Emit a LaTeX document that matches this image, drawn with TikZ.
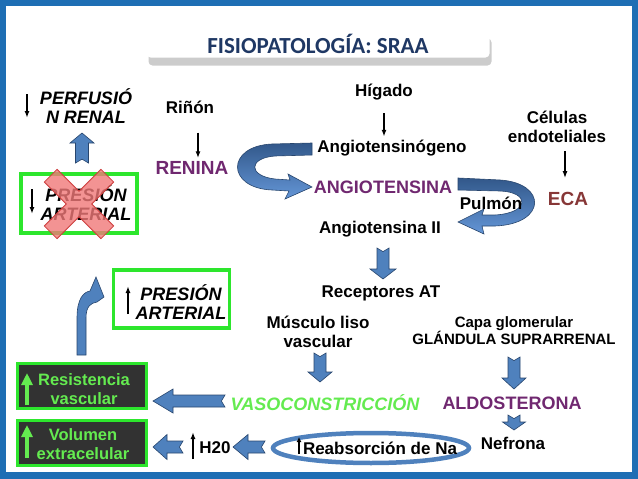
\documentclass[tikz,border=0pt]{standalone}
\usepackage{fontspec}
\setmainfont{Liberation Sans}
\newfontfamily\titlefont{Carlito}
\usetikzlibrary{positioning,arrows.meta,shadows,shapes.geometric}
\definecolor{framecol}{RGB}{30,110,180}
\definecolor{titlecol}{RGB}{31,56,100}
\definecolor{arrowblue}{RGB}{79,129,189}
\definecolor{arrowedge}{RGB}{40,70,110}
\definecolor{ribbondark}{RGB}{50,88,138}
\definecolor{ribbonlight}{RGB}{100,150,215}
\definecolor{boxgreen}{RGB}{45,230,45}
\definecolor{textgreen}{RGB}{100,235,80}
\definecolor{darkfill}{RGB}{50,50,50}
\definecolor{purpletxt}{RGB}{112,40,112}
\definecolor{ecabrown}{RGB}{135,55,55}
\definecolor{crossred}{RGB}{240,120,120}
\definecolor{crossedge}{RGB}{205,60,60}
\tikzset{
  thinarrow/.style={-{Latex[length=7pt,width=5pt]}, line width=1.5pt},
  greenup/.style={-{Triangle[length=12pt,width=11pt]}, line width=4.5pt, draw=textgreen},
  lbl/.style={font=\fontsize{17}{19.5}\selectfont\bfseries, align=center, inner sep=0pt},
  keyword/.style={font=\fontsize{18}{20}\selectfont\bfseries, text=purpletxt, inner sep=0pt},
  itlbl/.style={font=\fontsize{18}{19}\selectfont\bfseries\itshape, align=center, inner sep=0pt},
  greenbox/.style={draw=boxgreen, line width=3.5pt, inner sep=0pt},
  darkbox/.style={draw=boxgreen, line width=3pt, fill=darkfill, inner sep=0pt},
  darktxt/.style={font=\fontsize{16.5}{18.5}\selectfont\bfseries, text=textgreen, align=center, inner sep=0pt},
  titlebox/.style={fill=white, rounded corners=4pt, minimum width=343pt, minimum height=27pt,
    drop shadow={shadow xshift=2pt, shadow yshift=-8pt, opacity=0.4, fill=gray},
    font=\titlefont\bfseries\fontsize{23}{26}\selectfont, text=titlecol},
  blockfill/.style={fill=arrowblue, draw=arrowedge, line width=0.6pt},
  ribbon/.style={top color=ribbondark, bottom color=ribbonlight, draw=arrowedge, line width=0.6pt},
  crossmark/.style={fill=crossred, fill opacity=0.8, draw=crossedge, line width=0.8pt},
  pics/blockarrow/.style n args={4}{code={
    % length, head length, head width, shaft width
    \filldraw[blockfill] (0,{-#4/2}) -- ({#1-#2},{-#4/2}) -- ({#1-#2},{-#3/2}) -- (#1,0)
      -- ({#1-#2},{#3/2}) -- ({#1-#2},{#4/2}) -- (0,{#4/2}) -- ({0.3*#4},0) -- cycle;
  }}
}

\begin{document}
\begin{tikzpicture}[x=1pt, y=-1pt]
  \useasboundingbox (0,0) rectangle (638,479);
  % frame
  \fill[framecol] (0,0) rectangle (638,479);
  \fill[white] (6,6) rectangle (632,472);

  \node[titlebox] (title) at (318,44) {FISIOPATOLOGÍA: SRAA};

  % curved ribbons
  \shadedraw[ribbon] (312,143) -- (272,144) .. controls (226,146) and (226,188) .. (272,190)
    -- (289,191) -- (285,199) -- (312,187) -- (288,174) -- (290,180) -- (275,179)
    .. controls (248,176) and (248,158) .. (275,156) -- (312,155) -- cycle;
  \shadedraw[ribbon] (458,178) -- (500,180) .. controls (547,183) and (547,224) .. (495,226)
    -- (482,226) -- (484,234) -- (458,222) -- (484,209) -- (482,215) -- (495,215)
    .. controls (530,213) and (530,192) .. (500,191) -- (458,190) -- cycle;

  % upper chain
  \node[lbl] (rinon) at (190,107) {Riñón};
  \node[keyword, font=\fontsize{19}{21}\selectfont\bfseries] (renina) at (192,168) {RENINA};
  \node[lbl] (higado) at (384,92) {Hígado};
  \node[lbl] (angiogen) at (392,148) {Angiotensinógeno};
  \node[keyword] (angio) at (383,187) {ANGIOTENSINA};
  \node[lbl] (celulas) at (557,127) {Células\\endoteliales};
  \node[keyword, text=ecabrown, font=\fontsize{19}{21}\selectfont\bfseries] (eca) at (568,199) {ECA};
  \node[lbl] (pulmon) at (491,203) {Pulmón};
  \node[lbl] (angiodos) at (380,229) {Angiotensina II};
  \draw[thinarrow, shorten <=19pt, shorten >=3pt] ([xshift=8pt]rinon.south) -- ([xshift=6pt]renina.north);
  \draw[thinarrow, shorten <=13pt, shorten >=3pt] (higado.south) -- (higado.south |- angiogen.north);
  \draw[thinarrow, shorten <=8pt, shorten >=14pt] ([xshift=8pt]celulas.south) -- ([xshift=-3pt]eca.north);

  % lower chain
  \node[lbl] (receptores) at (381,293) {Receptores AT};
  \node[lbl] (musculo) at (318,332) {Músculo liso\\vascular};
  \node[lbl, font=\fontsize{15}{17}\selectfont\bfseries] (capa) at (514,331) {Capa glomerular\\GLÁNDULA SUPRARRENAL};
  \node[keyword, text=textgreen, font=\fontsize{18}{20}\selectfont\bfseries\itshape] (vaso) at (325,403) {VASOCONSTRICCIÓN};
  \node[keyword] (aldo) at (512,403) {ALDOSTERONA};
  \node[lbl] (nefrona) at (513,443) {Nefrona};
  \node[ellipse, draw=arrowblue, line width=4.5pt, minimum width=196pt, minimum height=30pt] (ring) at (371,448) {};
  \node[lbl] (reabs) at (380,448) {Reabsorción de Na};
  \draw[line width=2pt, -{Latex[length=5pt,width=5pt]}] (299,454) -- (299,437);
  \node[lbl] (htwo) at (215,448) {H20};
  \draw[thinarrow] (193,459) -- (193,432);

  \pic[rotate=-90] at (383,248) {blockarrow={31}{10}{26}{12}};
  \pic[rotate=-90] at (320,353) {blockarrow={29}{10}{24}{12}};
  \pic[rotate=-90] at (514,357) {blockarrow={32}{11}{24}{12}};
  \pic[rotate=-90] at (514,415) {blockarrow={15}{8}{23}{12}};
  \pic[rotate=180] at (225,401) {blockarrow={72}{20}{24}{12}};
  \pic[rotate=180] at (265,447) {blockarrow={32}{15}{25}{12}};
  \pic[rotate=180] at (183,447) {blockarrow={30}{14}{25}{12}};
  \pic[rotate=90] at (82,163) {blockarrow={30}{10}{24}{13}};

  % left column
  \node[itlbl] (perfusion) at (86,106) {PERFUSIÓ\\N RENAL};
  \draw[thinarrow] (27,94) -- (27,118);
  \node[greenbox, minimum width=116pt, minimum height=59pt] (lowbox) at (79,203.5) {};
  \node[itlbl] (lowtxt) at (86,203) {PRESIÓN\\ARTERIAL};
  \draw[thinarrow] (32,189) -- (32,214);
  \node[greenbox, minimum width=116pt, minimum height=58pt] (highbox) at (171.5,299) {};
  \node[itlbl] (hightxt) at (181,302) {PRESIÓN\\ARTERIAL};
  \draw[thinarrow] (128,314) -- (128,286);
  \filldraw[blockfill] (77,355) -- (77,318) .. controls (77,298) and (84,292) .. (90,291)
    -- (96,277) -- (104,297) -- (97,302) .. controls (91,303) and (86,306) .. (86,318)
    -- (86,355) -- cycle;
  \node[darkbox, minimum width=129pt, minimum height=45pt] (resist) at (82,386) {};
  \node[darktxt] (resisttxt) at (84,389) {Resistencia\\vascular};
  \draw[greenup] (27,405) -- (27,373);
  \node[darkbox, minimum width=129pt, minimum height=45pt] (volumen) at (82,443) {};
  \node[darktxt] (volumentxt) at (83,444) {Volumen\\extracelular};
  \draw[greenup] (27,458) -- (27,425);

  % crossed out
  \begin{scope}[shift={(79,204)}, rotate=45]
    \filldraw[crossmark] (9,-40) -- (9,-9) -- (40,-9) -- (40,9) -- (9,9) -- (9,40) -- (-9,40)
      -- (-9,9) -- (-40,9) -- (-40,-9) -- (-9,-9) -- (-9,-40) -- cycle;
  \end{scope}
\end{tikzpicture}
\end{document}
